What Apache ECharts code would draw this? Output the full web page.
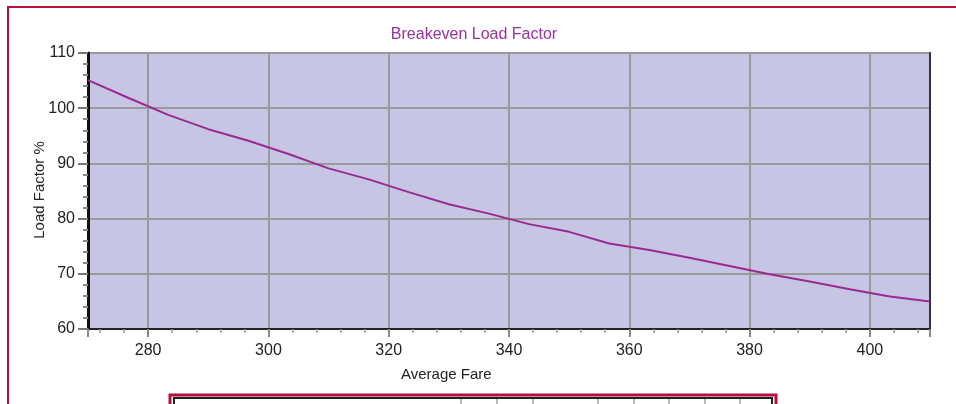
<!DOCTYPE html>
<html>
<head>
<meta charset="utf-8">
<script src="https://cdn.jsdelivr.net/npm/echarts@6/dist/echarts.min.js"></script>
<style>
  html, body { margin: 0; padding: 0; background: #fff; }
  #chart { width: 956px; height: 404px; }
</style>
</head>
<body>
<div id="chart"></div>
<script>
// average fare points (x) and breakeven load factor (y)
const fares = [270, 276.67, 283.33, 290, 296.67, 303.33, 310, 316.67, 323.33, 330, 336.67,
  343.33, 350, 356.67, 363.33, 370, 376.67, 383.33, 390, 396.67, 403.33, 410]
const loadFactor = [105.1, 101.9, 98.8, 96.2, 94.1, 91.7, 89.1, 87.1, 84.8, 82.6, 80.9,
  79.0, 77.6, 75.5, 74.3, 72.9, 71.4, 69.9, 68.6, 67.2, 65.9, 65.0]
const xTickLabels = ['280', '300', '320', '340', '360', '380', '400']
const yTickLabels = ['60', '70', '80', '90', '100', '110']

const font = '"Liberation Sans", Arial, sans-serif'
const chart = echarts.init(document.getElementById('chart'))

const option = {
  animation: false,
  title: {
    text: 'Breakeven Load Factor',
    left: 469,
    top: 22,
    textAlign: 'center',
    textStyle: { color: '#993399', fontSize: 16, fontWeight: 'normal', fontFamily: font }
  },
  grid: {
    left: 88,
    top: 53,
    width: 842,
    height: 276,
    show: true,
    backgroundColor: '#c6c6e4',
    borderColor: '#999',
    borderWidth: 2
  },
  xAxis: {
    type: 'value',
    min: 270,
    max: 410,
    splitNumber: 7,
    axisLine: { show: true, onZero: false, lineStyle: { color: '#222', width: 2 } },
    axisTick: { show: true, length: 8, lineStyle: { color: '#888', width: 2 } },
    minorTick: { show: true, splitNumber: 5, length: 4, lineStyle: { color: '#999', width: 1.5 } },
    splitLine: { show: true, lineStyle: { color: '#999', width: 2 } },
    axisLabel: {
      margin: 14,
      color: '#222',
      fontSize: 16,
      fontFamily: font,
      showMinLabel: false,
      showMaxLabel: false,
      formatter: v => xTickLabels.includes(String(v)) ? String(v) : ''
    }
  },
  yAxis: [{
    type: 'value',
    min: 60,
    max: 110,
    interval: 10,
    axisLine: { show: true, lineStyle: { color: '#111', width: 3 } },
    axisTick: { show: true, length: 10, lineStyle: { color: '#777', width: 2 } },
    minorTick: { show: true, splitNumber: 5, length: 5, lineStyle: { color: '#888', width: 2 } },
    splitLine: { show: true, lineStyle: { color: '#999', width: 2 } },
    axisLabel: {
      margin: 13,
      color: '#222',
      fontSize: 16,
      fontFamily: font,
      formatter: v => yTickLabels.includes(String(v)) ? String(v) : ''
    }
  }, {
    type: 'value',
    position: 'right',
    min: 60,
    max: 110,
    axisLine: { show: true, lineStyle: { color: '#333', width: 2 } },
    axisTick: { show: false },
    axisLabel: { show: false },
    splitLine: { show: false }
  }],
  series: [{
    type: 'line',
    data: fares.map((f, i) => [f, loadFactor[i]]),
    showSymbol: false,
    lineStyle: { color: '#9a2a92', width: 2 },
    z: 5
  }],
  graphic: [
    // outer frame
    { type: 'rect', shape: { x: 8, y: 7, width: 960, height: 420 }, style: { fill: 'none', stroke: '#b5103c', lineWidth: 2 } },
    { type: 'text', left: 401, top: 367, style: { text: 'Average Fare', fill: '#222', font: '15px ' + font } },
    { type: 'text', x: 40, y: 190, rotation: Math.PI / 2, style: { text: 'Load Factor %', fill: '#222', font: '15px ' + font, align: 'center', verticalAlign: 'middle' } },
    // cut-off table box below the chart
    { type: 'rect', shape: { x: 170, y: 395, width: 606, height: 20 }, style: { fill: '#fff', stroke: '#b5103c', lineWidth: 3 } },
    { type: 'rect', shape: { x: 174, y: 398, width: 598, height: 20 }, style: { fill: 'none', stroke: '#222', lineWidth: 2 } },
    ...[461, 497, 533, 598, 634, 669, 705, 740].map(x => ({
      type: 'line', shape: { x1: x, y1: 399, x2: x, y2: 404 }, style: { stroke: '#bbb', lineWidth: 2 }
    }))
  ]
}

chart.setOption(option)
window.addEventListener('resize', function () {
  chart.resize()
})
</script>
</body>
</html>
